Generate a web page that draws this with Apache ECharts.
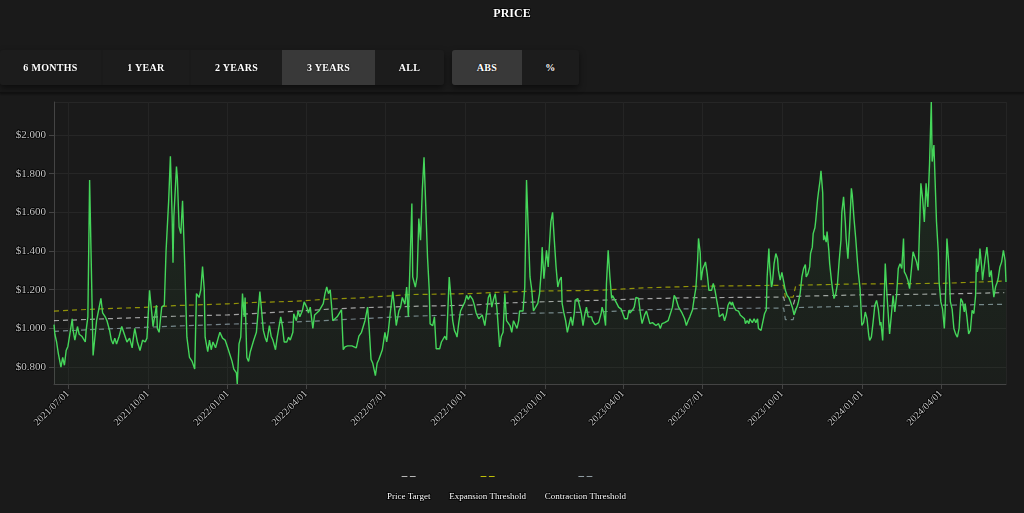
<!DOCTYPE html>
<html>
<head>
<meta charset="utf-8">
<script src="https://cdn.jsdelivr.net/npm/echarts@6/dist/echarts.min.js"></script>
<style>
  html, body { margin: 0; padding: 0; background: #1a1a1a; }
  #chart { position: absolute; left: 0; top: 0; width: 1024px; height: 513px; }
  .btns { position: absolute; top: 50px; height: 35px; display: flex; border-radius: 3px;
          box-shadow: 0 3px 6px rgba(0, 0, 0, 0.5); z-index: 2; overflow: hidden; }
  .btn { height: 35px; text-align: center; color: #fff; background: #1c1c1c;
         font: bold 10px "Liberation Serif", serif; line-height: 35px; letter-spacing: 0.3px;
         text-shadow: 0 0 2px #000; }
  .btn.on { background: #393939; }
  .sep { position: absolute; left: 0; top: 92px; width: 1024px; height: 1px; background: #111;
         box-shadow: 0 1px 2px rgba(0, 0, 0, 0.6); z-index: 1; }
</style>
</head>
<body>
<div id="chart"></div>
<div class="sep"></div>
<div class="btns" style="left:0">
  <div class="btn" style="width:101px">6 MONTHS</div>
  <div class="btn" style="width:86px;margin-left:2px">1 YEAR</div>
  <div class="btn" style="width:91px;margin-left:2px">2 YEARS</div>
  <div class="btn on" style="width:93px">3 YEARS</div>
  <div class="btn" style="width:69px">ALL</div>
</div>
<div class="btns" style="left:452px">
  <div class="btn on" style="width:70px">ABS</div>
  <div class="btn" style="width:57px">%</div>
</div>
<script>
// days counted from 2021-06-15
const priceDays = [
  0, 1, 3, 5, 8, 10, 12, 14, 16, 18, 21, 22, 24, 27, 29, 32, 34, 36, 37, 39,
  41, 45, 49, 51, 54, 56, 59, 61, 64, 66, 68, 70, 72, 75, 78, 81, 84, 87, 90, 91,
  93, 96, 99, 102, 105, 107, 110, 113, 114, 118, 119, 121, 124, 127, 129, 132, 134, 136, 137, 138,
  141, 142, 144, 146, 148, 150, 153, 156, 159, 160, 162, 164, 167, 169, 171, 173, 174, 177, 179, 181,
  183, 186, 189, 191, 194, 197, 200, 202, 205, 207, 210, 211, 213, 215, 217, 219, 220, 222, 224, 226,
  228, 230, 233, 235, 237, 239, 241, 243, 245, 248, 250, 252, 255, 257, 259, 261, 263, 265, 268, 270,
  272, 275, 276, 279, 281, 283, 286, 288, 291, 293, 295, 298, 300, 302, 305, 307, 310, 312, 314, 316,
  318, 321, 323, 326, 328, 331, 333, 335, 338, 340, 343, 345, 348, 351, 354, 356, 358, 361, 363, 365,
  367, 370, 372, 374, 378, 381, 383, 385, 387, 390, 392, 394, 397, 399, 401, 404, 406, 408, 410, 412,
  413, 416, 418, 420, 422, 424, 426, 428, 430, 432, 433, 436, 438, 440, 442, 444, 446, 448, 450, 452,
  455, 457, 459, 461, 463, 464, 466, 468, 470, 473, 475, 477, 479, 482, 484, 486, 489, 491, 493, 496,
  498, 500, 502, 504, 506, 508, 510, 512, 513, 515, 517, 519, 521, 523, 525, 527, 529, 531, 533, 535,
  536, 538, 540, 542, 544, 546, 548, 550, 552, 554, 557, 559, 561, 562, 564, 567, 569, 570, 572, 574,
  576, 578, 580, 582, 584, 585, 587, 589, 591, 593, 595, 597, 599, 600, 603, 605, 607, 609, 611, 613,
  615, 617, 619, 620, 623, 625, 627, 630, 631, 633, 635, 636, 638, 640, 642, 643, 646, 648, 650, 653,
  655, 657, 660, 662, 663, 666, 668, 670, 673, 675, 677, 680, 682, 684, 686, 689, 691, 693, 696, 698,
  700, 703, 705, 707, 709, 712, 714, 716, 719, 721, 723, 726, 728, 730, 732, 735, 737, 739, 741, 742,
  744, 745, 747, 749, 750, 752, 754, 756, 757, 759, 761, 763, 765, 766, 768, 770, 772, 774, 776, 778,
  780, 781, 783, 785, 788, 790, 792, 795, 796, 798, 800, 801, 804, 806, 808, 810, 811, 814, 816, 818,
  820, 821, 823, 824, 826, 827, 829, 831, 833, 834, 836, 838, 840, 842, 844, 846, 848, 850, 852, 854,
  856, 857, 859, 861, 863, 865, 866, 868, 870, 871, 873, 874, 876, 877, 879, 880, 882, 883, 885, 886,
  887, 889, 890, 892, 893, 895, 896, 898, 900, 902, 904, 906, 907, 909, 911, 912, 914, 916, 918, 919,
  921, 923, 925, 926, 928, 930, 932, 934, 936, 938, 939, 941, 943, 945, 947, 949, 951, 952, 954, 956,
  957, 959, 961, 962, 964, 966, 968, 970, 972, 974, 976, 978, 979, 981, 983, 985, 987, 989, 991, 993,
  995, 997, 998, 1000, 1002, 1004, 1006, 1008, 1010, 1011, 1013, 1015, 1016, 1018, 1019, 1021, 1023, 1025, 1026, 1028,
  1030, 1032, 1034, 1036, 1038, 1040, 1042, 1044, 1046, 1048, 1049, 1051, 1053, 1055, 1057, 1059, 1061, 1062, 1063, 1065,
  1066, 1068, 1069, 1071, 1072, 1074, 1076, 1077, 1079, 1080, 1082, 1084, 1086, 1087, 1089, 1091, 1093, 1095, 1096
]
const priceValues = [
  1.02, 0.97, 0.93, 0.87, 0.80, 0.85, 0.81, 0.886, 0.907, 0.90, 1.05, 0.99, 0.94, 1.01, 0.97, 0.96, 0.95, 0.93, 0.99, 1.06,
  1.767, 0.86, 1.04, 1.05, 1.155, 1.08, 1.06, 1.04, 0.99, 0.94, 0.92, 0.95, 0.92, 0.96, 1.01, 0.97, 0.93, 0.95, 0.90, 0.94,
  1.0, 0.93, 0.886, 0.94, 0.93, 0.95, 1.197, 1.06, 1.01, 1.12, 1.0, 0.98, 1.11, 1.12, 1.40, 1.66, 1.89, 1.58, 1.34, 1.58,
  1.836, 1.78, 1.525, 1.49, 1.66, 1.40, 0.955, 0.85, 0.83, 0.82, 0.79, 1.18, 1.16, 1.20, 1.32, 1.20, 0.955, 0.88, 0.94, 0.89,
  0.93, 0.90, 0.95, 0.98, 0.95, 0.94, 0.90, 0.89, 0.83, 0.79, 0.77, 0.713, 0.92, 0.955, 1.18, 1.06, 1.16, 0.85, 0.83, 0.88,
  0.89, 0.94, 0.98, 0.99, 1.19, 1.09, 0.99, 0.955, 0.93, 1.015, 0.96, 0.94, 0.89, 0.955, 0.96, 1.06, 1.01, 0.93, 0.93, 0.955,
  0.94, 0.98, 1.076, 1.04, 1.09, 1.06, 1.093, 1.137, 1.11, 1.08, 1.11, 1.0, 1.07, 1.08, 1.09, 1.09, 1.128, 1.18, 1.214, 1.18,
  1.20, 1.04, 1.05, 1.06, 1.05, 1.097, 0.89, 0.905, 0.91, 0.905, 0.91, 0.905, 0.90, 0.96, 0.98, 0.99, 1.04, 1.11, 0.99, 0.84,
  0.82, 0.756, 0.82, 0.84, 0.89, 0.98, 0.93, 0.99, 1.076, 1.19, 1.11, 1.015, 1.09, 1.11, 1.16, 1.125, 1.214, 1.06, 1.07, 1.646,
  1.266, 1.214, 1.266, 1.568, 1.456, 1.715, 1.884, 1.63, 1.37, 1.20, 1.024, 1.015, 1.06, 0.895, 0.905, 0.895, 0.93, 0.92, 0.96, 0.94,
  1.266, 1.16, 1.04, 0.99, 0.97, 0.955, 1.03, 1.09, 1.08, 1.137, 1.171, 1.15, 1.17, 1.15, 1.12, 1.08, 1.05, 1.04, 1.07, 1.015,
  1.08, 1.16, 1.18, 1.11, 1.15, 1.18, 1.10, 0.97, 0.905, 0.96, 0.98, 1.18, 1.04, 1.05, 1.015, 0.98, 1.04, 1.02, 1.0, 1.04,
  1.09, 1.08, 1.09, 1.214, 1.767, 1.508, 1.266, 1.20, 1.09, 1.08, 1.13, 1.18, 1.30, 1.42, 1.257, 1.404, 1.318, 1.404, 1.55, 1.60,
  1.456, 1.318, 1.214, 1.25, 1.266, 1.13, 1.08, 1.04, 0.98, 1.02, 1.06, 1.015, 1.08, 1.145, 1.155, 1.145, 1.08, 1.015, 1.07, 1.11,
  1.06, 1.07, 1.06, 1.04, 1.02, 1.015, 1.03, 1.08, 1.11, 1.08, 1.015, 1.232, 1.404, 1.266, 1.155, 1.17, 1.145, 1.128, 1.11, 1.10,
  1.095, 1.05, 1.05, 1.095, 1.08, 1.095, 1.11, 1.16, 1.155, 1.08, 1.025, 1.07, 1.09, 1.095, 1.025, 1.03, 1.04, 1.015, 1.025, 1.0,
  1.025, 1.03, 1.035, 1.04, 1.05, 1.11, 1.171, 1.155, 1.11, 1.10, 1.08, 1.05, 1.015, 1.04, 1.06, 1.095, 1.155, 1.21, 1.352, 1.465,
  1.389, 1.249, 1.31, 1.33, 1.344, 1.283, 1.197, 1.206, 1.197, 1.232, 1.197, 1.145, 1.095, 1.06, 1.05, 1.076, 1.04, 1.07, 1.12, 1.137,
  1.12, 1.137, 1.11, 1.095, 1.09, 1.07, 1.076, 1.05, 1.025, 1.04, 1.025, 1.05, 1.03, 1.05, 1.03, 1.05, 1.0, 0.99, 1.0, 1.076,
  1.095, 1.266, 1.413, 1.318, 1.214, 1.232, 1.335, 1.387, 1.36, 1.30, 1.25, 1.29, 1.283, 1.197, 1.171, 1.16, 1.137, 1.11, 1.07, 1.095,
  1.12, 1.137, 1.18, 1.266, 1.31, 1.33, 1.266, 1.283, 1.318, 1.387, 1.42, 1.49, 1.52, 1.56, 1.663, 1.70, 1.767, 1.815, 1.70, 1.456,
  1.48, 1.446, 1.50, 1.404, 1.335, 1.25, 1.214, 1.154, 1.18, 1.232, 1.352, 1.456, 1.60, 1.68, 1.55, 1.465, 1.36, 1.525, 1.724, 1.69,
  1.568, 1.465, 1.344, 1.29, 1.206, 1.016, 1.03, 1.085, 1.05, 0.964, 0.938, 0.955, 1.033, 1.12, 1.145, 1.10, 1.016, 1.033, 0.938, 1.188,
  1.335, 1.17, 1.033, 0.972, 1.068, 1.17, 1.085, 1.17, 1.31, 1.335, 1.31, 1.465, 1.292, 1.275, 1.249, 1.206, 1.197, 1.396, 1.405, 1.344,
  1.30, 1.31, 1.75, 1.672, 1.55, 1.75, 1.628, 1.853, 2.17, 1.862, 1.948, 1.94, 1.55, 1.396, 1.24, 1.137, 1.10, 1.0, 1.10, 1.465,
  1.344, 1.137, 1.10, 1.0, 0.972, 0.955, 1.0, 1.154, 1.137, 1.085, 1.128, 1.06, 0.972, 0.99, 1.094, 1.077, 1.171, 1.361, 1.292, 1.335,
  1.413, 1.318, 1.249, 1.258, 1.361, 1.42, 1.327, 1.266, 1.30, 1.249, 1.162, 1.215, 1.24, 1.258, 1.318, 1.344, 1.404, 1.35, 1.24
]

const thresholdDays = [0, 47, 111, 139, 200, 229, 275, 318, 352, 410, 479, 517, 556, 625, 682, 740, 778, 840, 842, 851, 854, 924, 1023, 1094]
const targetValues = [1.04, 1.048, 1.058, 1.063, 1.07, 1.077, 1.088, 1.10, 1.107, 1.114, 1.12, 1.131, 1.137, 1.145, 1.154, 1.159, 1.16, 1.162, 1.12, 1.12, 1.166, 1.173, 1.178, 1.185]
const expansionValues = [1.09, 1.10, 1.11, 1.118, 1.127, 1.134, 1.14, 1.152, 1.158, 1.175, 1.18, 1.188, 1.193, 1.197, 1.21, 1.218, 1.22, 1.223, 1.162, 1.162, 1.223, 1.23, 1.233, 1.245]
const contractionValues = [0.985, 0.995, 1.007, 1.012, 1.022, 1.026, 1.033, 1.042, 1.05, 1.063, 1.072, 1.077, 1.079, 1.085, 1.097, 1.102, 1.104, 1.105, 1.046, 1.046, 1.108, 1.115, 1.12, 1.125]

const legendNames = ['Price Target', 'Expansion Threshold', 'Contraction Threshold']

const FONT = '"Liberation Serif", "DejaVu Serif", serif'

function toTime(d) {
  return new Date(2021, 5, 15 + d).getTime()
}
function pairs(days, vals) {
  return days.map((d, i) => [toTime(d), vals[i]])
}
function pad(n) {
  return n < 10 ? '0' + n : '' + n
}

let myChart = echarts.init(document.getElementById('chart'))

let dashed = (name, vals, color) => ({
  name: name,
  type: 'line',
  data: pairs(thresholdDays, vals),
  showSymbol: false,
  silent: true,
  z: 2,
  lineStyle: { color: color, width: 1.2, type: [5, 4] },
  itemStyle: { color: color }
})

let opt = {
  backgroundColor: '#1a1a1a',
  animation: false,
  title: {
    text: 'PRICE',
    left: 'center',
    top: 3,
    textStyle: {
      color: '#fff', fontSize: 12, fontWeight: 'bold', fontFamily: FONT,
      textBorderColor: '#000', textBorderWidth: 1.5
    }
  },
  grid: { left: 54, right: 18, top: 102, bottom: 129 },
  legend: {
    data: legendNames,
    left: 377,
    top: 466,
    icon: 'none',
    itemWidth: 0,
    itemHeight: 0,
    itemGap: 13,
    formatter: name => '{d' + legendNames.indexOf(name) + '|– –}\n{n|' + name + '}',
    textStyle: {
      fontFamily: FONT,
      rich: {
        d0: { color: '#e8e8e8', fontSize: 11, fontWeight: 'bold', lineHeight: 20, align: 'center' },
        d1: { color: '#f0f000', fontSize: 11, fontWeight: 'bold', lineHeight: 20, align: 'center' },
        d2: { color: '#b4c4cc', fontSize: 11, fontWeight: 'bold', lineHeight: 20, align: 'center' },
        n: { color: '#fff', fontSize: 9, lineHeight: 20, align: 'center', fontFamily: FONT,
             textBorderColor: '#000', textBorderWidth: 1.5 }
      }
    }
  },
  xAxis: {
    type: 'time',
    min: 'dataMin',
    max: 'dataMax',
    splitNumber: 9,
    axisLine: { lineStyle: { color: '#444' } },
    axisTick: { show: true, lineStyle: { color: '#444' } },
    splitLine: { show: true, lineStyle: { color: '#242424' } },
    axisLabel: {
      rotate: 45,
      color: '#c8c8c8',
      fontSize: 10,
      fontFamily: FONT,
      textBorderColor: '#000',
      textBorderWidth: 1.5,
      hideOverlap: false,
      formatter: v => {
        let d = new Date(v)
        return d.getFullYear() + '/' + pad(d.getMonth() + 1) + '/' + pad(d.getDate())
      }
    }
  },
  yAxis: {
    type: 'value',
    min: 'dataMin',
    max: 'dataMax',
    splitNumber: 7,
    axisLine: { show: true, lineStyle: { color: '#444' } },
    axisTick: { show: true, lineStyle: { color: '#444' } },
    splitLine: { lineStyle: { color: '#262626' } },
    axisLabel: {
      color: '#c8c8c8',
      fontSize: 11,
      fontFamily: FONT,
      textBorderColor: '#000',
      textBorderWidth: 1.5,
      showMinLabel: false,
      showMaxLabel: false,
      formatter: v => '$' + v.toFixed(3)
    }
  },
  series: [
    {
      name: 'Price',
      type: 'line',
      data: pairs(priceDays, priceValues),
      showSymbol: false,
      z: 3,
      lineStyle: { color: '#45d65a', width: 1.4 },
      itemStyle: { color: '#45d65a' },
      areaStyle: {
        color: new echarts.graphic.LinearGradient(0, 0, 0, 1, [
          { offset: 0, color: 'rgba(69, 214, 90, 0.14)' },
          { offset: 1, color: 'rgba(69, 214, 90, 0.03)' }
        ])
      }
    },
    dashed('Price Target', targetValues, 'rgba(210, 210, 210, 0.75)'),
    dashed('Expansion Threshold', expansionValues, 'rgba(200, 200, 0, 0.7)'),
    dashed('Contraction Threshold', contractionValues, 'rgba(160, 180, 190, 0.7)')
  ]
}

myChart.setOption(opt)
</script>
</body>
</html>
